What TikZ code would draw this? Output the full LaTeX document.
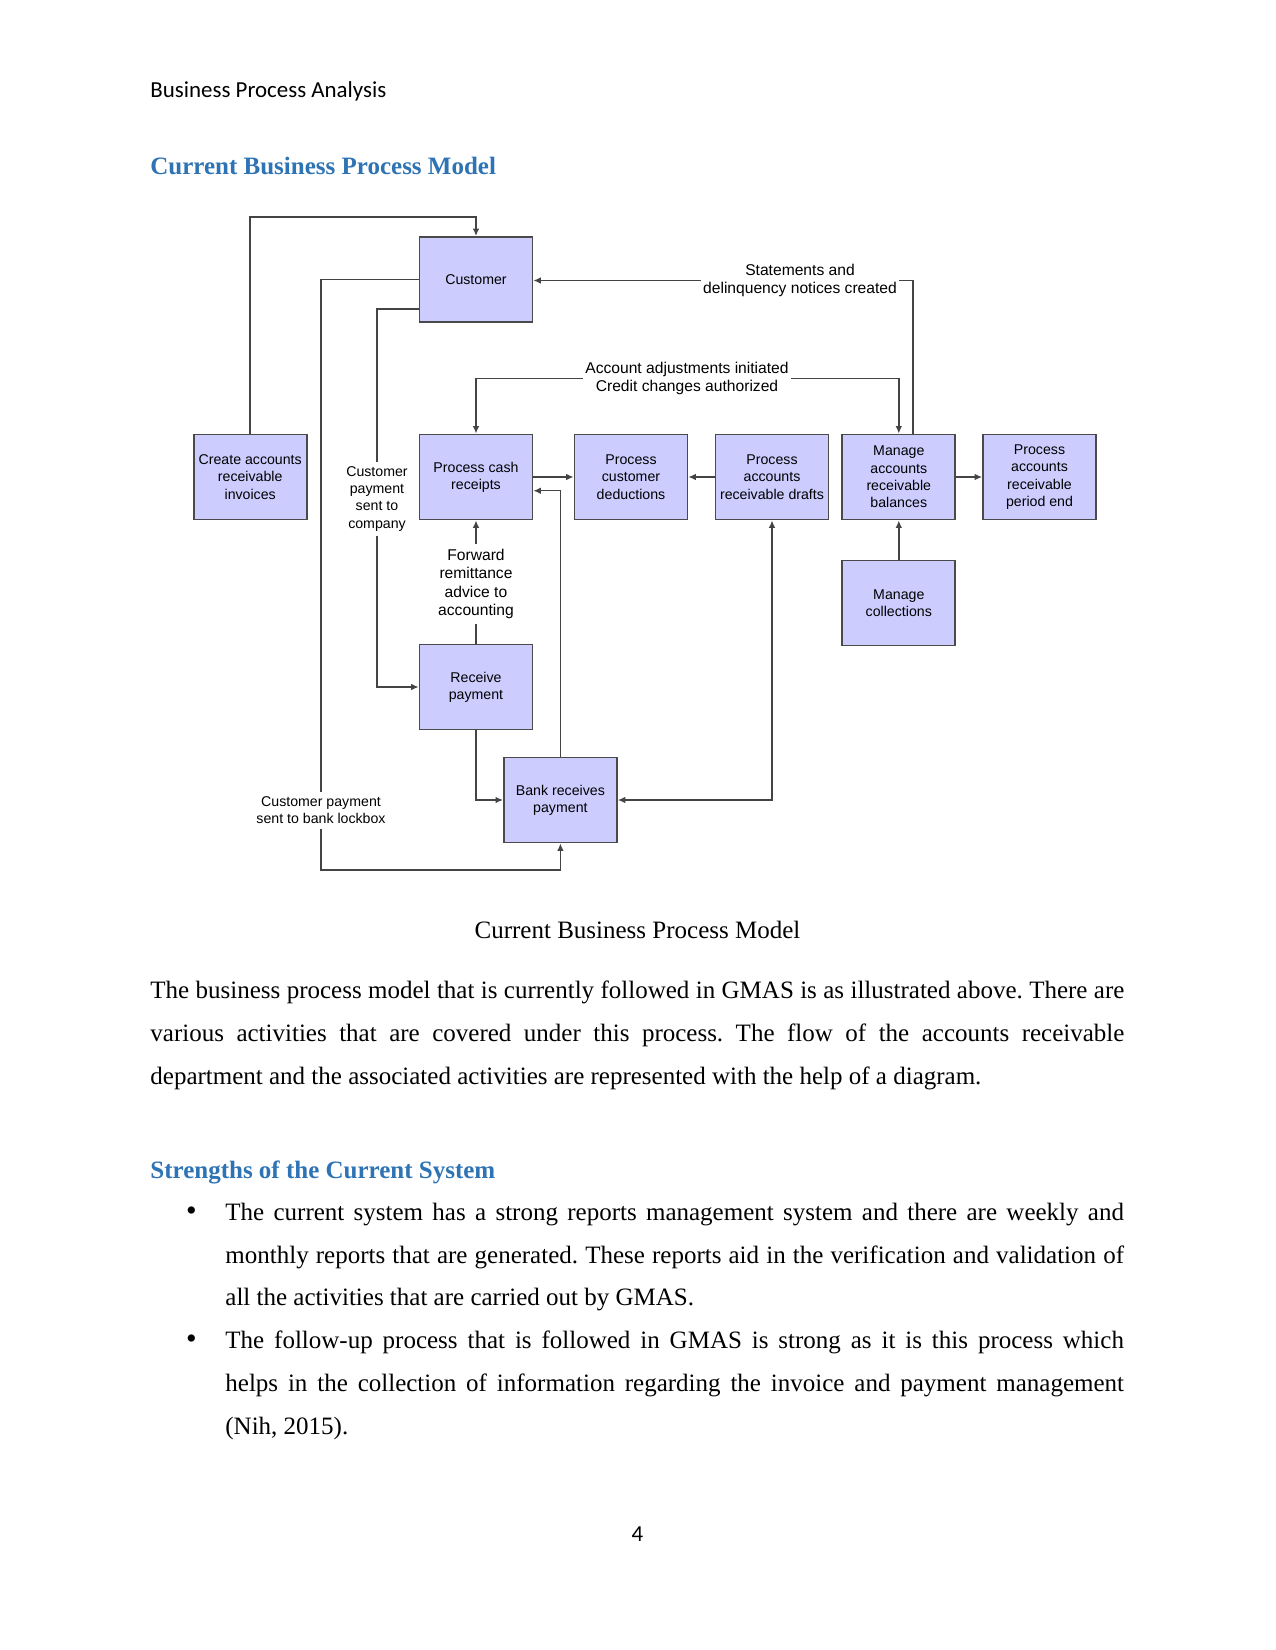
\documentclass[tikz,border=0pt]{standalone}
\usepackage{fontspec}
\setmainfont{Liberation Serif}
\newfontfamily\diagfont{Liberation Sans}
\newfontfamily\calfont{Carlito}
\usetikzlibrary{arrows.meta,calc}
\definecolor{boxfill}{HTML}{CCCCFF}
\definecolor{boxline}{HTML}{4A4A4A}
\definecolor{conncol}{HTML}{444444}
\definecolor{headblue}{RGB}{46,116,181}
\frenchspacing
\begin{document}
\begin{tikzpicture}[x=0.48pt,y=-0.48pt,
  proc/.style={draw=boxline, fill=boxfill, line width=0.9pt, minimum width=54.2pt, minimum height=40.8pt, inner sep=0pt, align=center, font=\diagfont\fontsize{6.8}{8.3}\selectfont},
  lbl/.style={align=center, inner xsep=1pt, inner ysep=2pt, font=\diagfont\fontsize{7.5}{8.9}\selectfont},
  slbl/.style={lbl, font=\diagfont\fontsize{6.8}{8.3}\selectfont},
  ln/.style={draw=conncol, line width=0.7pt},
  arr/.style={ln, -{Latex[length=3.6pt,width=3.2pt]}},
  darr/.style={ln, {Latex[length=3.6pt,width=3.2pt]}-{Latex[length=3.6pt,width=3.2pt]}},
  body/.style={anchor=base west, inner sep=0pt, font=\frenchspacing\fontsize{12}{14}\selectfont},
  bul/.style={anchor=base, inner sep=0pt, font=\fontsize{14.5}{14.5}\selectfont},
  heading/.style={anchor=base west, inner sep=0pt, text=headblue, font=\bfseries\fontsize{12}{14}\selectfont},
  calib/.style={inner sep=0pt, font=\calfont\fontsize{11}{13}\selectfont},
]
\path[use as bounding box, fill=white] (0,0) rectangle (1275,1650);

% page text
\node[calib, anchor=base west] (hdr) at (150,98) {Business Process Analysis};
\node[heading] (h1) at (150,174.7) {Current Business Process Model};

% boxes
\node[proc] (cust) at (476,279.5) {Customer};
\node[proc] (create) at (250.2,477) {Create accounts\\receivable\\invoices};
\node[proc] (pcr) at (476,477) {Process cash\\receipts};
\node[proc] (pcd) at (631,477) {Process\\customer\\deductions};
\node[proc] (pard) at (772,477) {Process\\accounts\\receivable drafts};
\node[proc] (mar) at (898.8,477) {Manage\\accounts\\receivable\\balances};
\node[proc] (pend) at (1039.5,477) {Process\\accounts\\receivable\\period end};
\node[proc] (coll) at (898.8,603) {Manage\\collections};
\node[proc] (recv) at (476,687) {Receive\\payment};
\node[proc] (bank) at (560.4,800) {Bank receives\\payment};

% labels
\node[lbl] (stmt) at (800,280.5) {Statements and\\delinquency notices created};
\node[lbl] (adj) at (687,378.5) {Account adjustments initiated\\Credit changes authorized};
\node[lbl] (fwd) at (476,584) {Forward\\remittance\\advice to\\accounting};
\node[slbl] (comp) at (377,498.8) {Customer\\payment\\sent to\\company};
\node[slbl] (lock) at (321,810.4) {Customer payment\\sent to bank lockbox};

% connectors
\draw[arr] (create.north) -- ++(0,-216.5) -| (cust.north);
\draw[ln] (cust.west) -| (lock.north);
\coordinate (lb) at (321,870);
\draw[arr] (lock.south) -- (lb) -| (bank.south);
\draw[ln] ([yshift=6.7pt]cust.south west) -| (comp.north);
\draw[arr] (comp.south) |- (recv.west);
\draw[ln] ([xshift=6.7pt]mar.north) |- (stmt.east);
\draw[arr] (stmt.west) -- (stmt.west -| cust.east);
\draw[arr] (adj.west) -| (pcr.north);
\draw[arr] (adj.east) -| (mar.north);
\draw[arr] (pcr.east) -- (pcd.west);
\draw[arr] (pard.west) -- (pcd.east);
\draw[arr] (mar.east) -- (pend.west);
\draw[arr] (coll.north) -- (mar.south);
\draw[arr] (fwd.north) -- (pcr.south);
\draw[ln] (recv.north) -- (fwd.south);
\draw[arr] (recv.south) |- (bank.west);
\draw[arr] (bank.north) |- ([yshift=-6.6pt]pcr.east);
\draw[darr] (bank.east) -| (pard.south);

% caption and body text
\node[body, anchor=base] (cap) at (637.5,938.5) {Current Business Process Model};
\node[body] (p1) at (150,998) {\hbox to 467.5pt{The business process model that is currently followed in GMAS is as illustrated above. There are}};
\node[body] (p2) at (150,1041) {\hbox to 467.5pt{various activities that are covered under this process. The flow of the accounts receivable}};
\node[body] (p3) at (150,1084) {department and the associated activities are represented with the help of a diagram.};

\node[heading] (h2) at (150,1178) {Strengths of the Current System};

\node[bul] (bu1) at (191.5,1220) {\textbullet};
\node[body] (t1a) at (225,1220) {\hbox to 431.3pt{The current system has a strong reports management system and there are weekly and}};
\node[body] (t1b) at (225,1263) {\hbox to 431.3pt{monthly reports that are generated. These reports aid in the verification and validation of}};
\node[body] (t1c) at (225,1305.5) {all the activities that are carried out by GMAS.};
\node[bul] (bu2) at (191.5,1348.5) {\textbullet};
\node[body] (t2a) at (225,1348.5) {\hbox to 431.3pt{The follow-up process that is followed in GMAS is strong as it is this process which}};
\node[body] (t2b) at (225,1391.5) {\hbox to 431.3pt{helps in the collection of information regarding the invoice and payment management}};
\node[body] (t2c) at (225,1434.5) {(Nih, 2015).};

\node[calib, anchor=base] (pg) at (637.5,1541.5) {4};
\end{tikzpicture}
\end{document}
